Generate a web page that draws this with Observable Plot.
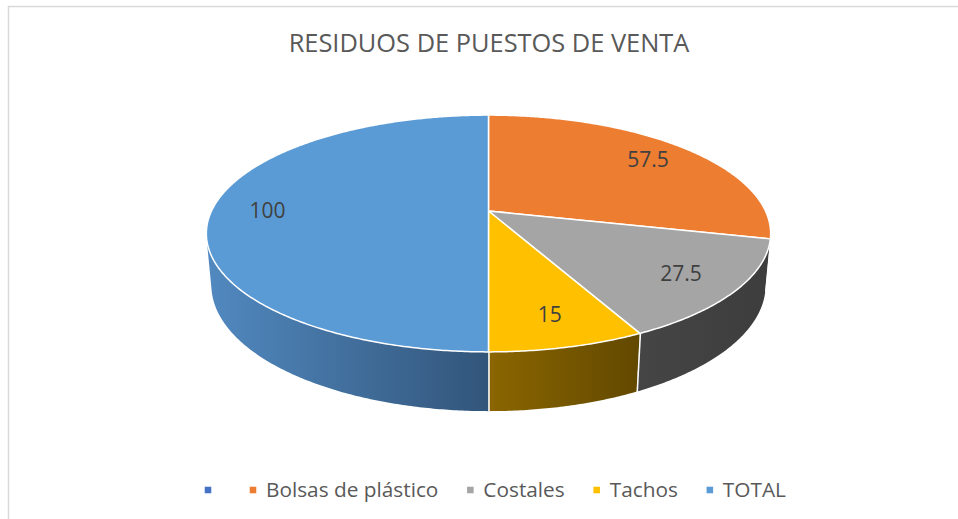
<!DOCTYPE html>
<html><head><meta charset="utf-8">
<script src="https://cdn.jsdelivr.net/npm/d3@7"></script>
<script src="https://cdn.jsdelivr.net/npm/@observablehq/plot@0.6"></script>
<style>html,body{margin:0;padding:0;background:#fff;overflow:hidden;}</style>
</head><body><div id="chart"></div>
<script>
// ---- data ----
const title = "RESIDUOS DE PUESTOS DE VENTA";
const categories = ["", "Bolsas de plástico", "Costales", "Tachos", "TOTAL"];
const values = [0, 57.5, 27.5, 15, 100];

// ---- styles ----
const topColors = ["#4472C4", "#ED7D31", "#A5A5A5", "#FFC000", "#5B9BD5"];
const sideLight = ["#3a5f9e", "#a4521c", "#454545", "#8b6600", "#5189c0"];
const sideDark  = ["#2a4a7a", "#8a4416", "#3d3d3d", "#624800", "#32557a"];
const FONT = '"Open Sans", sans-serif';
const titleSize = 25.4, labelSize = 21, legendSize = 20.8;

// ---- layout / projection ----
const W = 958, H = 519;
const cx = 488.5, cy = 211, S = 277;
const k = 0.19, sinA = 0.412, cosA = Math.sqrt(1 - sinA * sinA), D = cosA / k;
const T = 0.204;
function proj(theta, r = 1, h = 0) {
  const X = r * Math.sin(theta), Z = -r * Math.cos(theta);
  const w = 1 - (Z * cosA - h * sinA) / D;
  return [cx + X * S / w, cy + (Z * sinA + h * cosA) * S / w];
}
const zmin = 1 / (D * cosA);
const visA0 = Math.acos(-zmin), visA1 = 2 * Math.PI - visA0;

const total = d3.sum(values);
let acc = 0;
const slices = values.map((v, i) => {
  const a0 = acc / total * 2 * Math.PI;
  acc += v;
  const a1 = acc / total * 2 * Math.PI;
  return {i, v, a0, a1};
}).filter(s => s.v > 0);

function arc(a0, a1, r, h) {
  const n = Math.max(2, Math.ceil((a1 - a0) / (Math.PI / 360)));
  return d3.range(n + 1).map(j => proj(a0 + (a1 - a0) * j / n, r, h));
}

const marks = [];
const defs = d3.create("svg:defs");

// frame
marks.push(Plot.ruleX([8], {y1: 6, y2: H, stroke: "#d9d9d9", strokeWidth: 1.5}));
marks.push(Plot.ruleY([6], {x1: 8, x2: W, stroke: "#d9d9d9", strokeWidth: 1.5}));

// sides (visible part only)
for (const s of slices) {
  const b0 = Math.max(s.a0, visA0), b1 = Math.min(s.a1, visA1);
  if (b1 <= b0) continue;
  const topArc = arc(b0, b1, 1, 0), botArc = arc(b0, b1, 1, T);
  const rows = topArc.map((p, j) => ({x1: p[0], y1: p[1], x2: botArc[j][0], y2: botArc[j][1]}));
  const xs = rows.flatMap(r => [r.x1, r.x2]);
  const id = "side-grad-" + s.i;
  const g = defs.append("linearGradient").attr("id", id).attr("gradientUnits", "userSpaceOnUse")
    .attr("x1", d3.min(xs)).attr("x2", d3.max(xs)).attr("y1", 0).attr("y2", 0);
  g.append("stop").attr("offset", "0%").attr("stop-color", sideLight[s.i]);
  g.append("stop").attr("offset", "100%").attr("stop-color", sideDark[s.i]);
  marks.push(Plot.area(rows, {x1: "x1", y1: "y1", x2: "x2", y2: "y2", fill: `url(#${id})`}));
}
// side boundary lines
const bounds = [];
for (const s of slices) {
  for (const a of [s.a0, s.a1]) {
    if (a > visA0 && a < visA1 && !bounds.some(b => Math.abs(b.a - a) < 1e-9)) {
      const p = proj(a, 1, 0), q = proj(a, 1, T);
      bounds.push({a, x1: p[0], y1: p[1], x2: q[0], y2: q[1]});
    }
  }
}
marks.push(Plot.link(bounds, {x1: "x1", y1: "y1", x2: "x2", y2: "y2", stroke: "white", strokeWidth: 1.5}));

// tops
for (const s of slices) {
  const pts = arc(s.a0, s.a1, 1, 0);
  const rows = pts.map(p => ({x1: p[0], y1: p[1], x2: cx, y2: cy}));
  marks.push(Plot.area(rows, {x1: "x1", y1: "y1", x2: "x2", y2: "y2",
    fill: topColors[s.i], stroke: "white", strokeWidth: 1.5, strokeLinejoin: "round"}));
}

// data labels
const labels = slices.map(s => {
  const p = proj((s.a0 + s.a1) / 2, 0.8, 0);
  return {x: p[0], y: p[1], text: String(s.v)};
});
marks.push(Plot.text(labels, {x: "x", y: "y", text: "text", fontSize: labelSize,
  fill: "#404040", textAnchor: "middle", lineAnchor: "middle", fontFamily: FONT}));

// title
marks.push(Plot.text([title], {x: cx, y: 51, text: d => d, fontSize: titleSize,
  fill: "#595959", textAnchor: "middle", lineAnchor: "bottom", fontFamily: FONT}));

// legend
const ctx = document.createElement("canvas").getContext("2d");
ctx.font = `${legendSize}px ${FONT}`;
const gap = 32, textOff = 13;
const widths = categories.map(c => ctx.measureText(c).width);
const entryW = widths.map(w => textOff + w + gap);
let lx = cx - 281;
const legend = categories.map((c, i) => {
  const e = {mx: lx, tx: lx + textOff, label: c, color: topColors[i]};
  lx += entryW[i];
  return e;
});
const ly = 489.5;
marks.push(Plot.dot(legend, {x: "mx", y: () => ly, symbol: "square", r: 3.7, fill: "color", stroke: null}));
marks.push(Plot.text(legend, {x: "tx", y: () => ly, text: "label", fontSize: legendSize,
  fill: "#595959", textAnchor: "start", lineAnchor: "middle", fontFamily: FONT}));

marks.unshift(() => defs.node());

const chart = Plot.plot({
  width: W, height: H, margin: 0,
  x: {domain: [0, W], range: [0, W], axis: null},
  y: {domain: [0, H], range: [0, H], axis: null},
  color: {type: "identity"},
  style: {fontFamily: FONT, background: "white", overflow: "visible"},
  marks
});
document.getElementById("chart").appendChild(chart);
</script>
</body></html>
